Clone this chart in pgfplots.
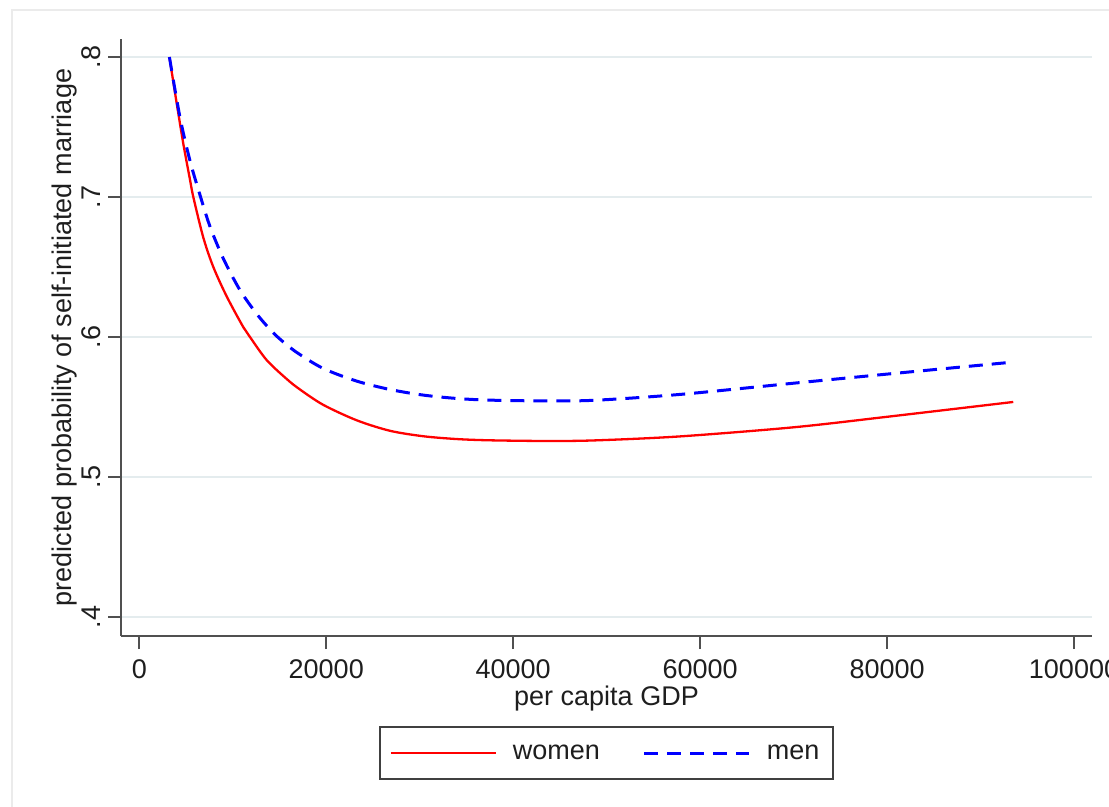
\documentclass[border=0pt]{standalone}
\usepackage{fontspec}
\setmainfont{Liberation Sans}
\usepackage{pgfplots}
\pgfplotsset{compat=1.18}
\definecolor{gridc}{HTML}{E4ECEE}
\definecolor{axc}{HTML}{505050}
\definecolor{txt}{HTML}{1E1E1E}
\begin{document}
\begin{tikzpicture}
\useasboundingbox (0,0) rectangle (554.5bp,403.5bp);
\draw[black!8, line width=0.7bp] (6bp,0) -- (6bp,398.5bp) -- (554.5bp,398.5bp);
\begin{axis}[
  at={(60.5bp,85.5bp)}, anchor=south west,
  scale only axis, width=485.5bp, height=298.5bp,
  xmin=-1958, xmax=101925, ymin=0.3864, ymax=0.8129,
  axis lines=left,
  axis line style={-, draw=axc, line width=1bp},
  tick align=outside, major tick length=6.5bp,
  tick style={draw=axc, line width=1bp},
  scaled x ticks=false, scaled y ticks=false,
  xtick={0,20000,40000,60000,80000,100000},
  xticklabels={0,20000,40000,60000,80000,100000},
  ytick={0.4,0.5,0.6,0.7,0.8},
  yticklabels={.4,.5,.6,.7,.8},
  ymajorgrids, grid style={draw=gridc, line width=1.2bp},
  tick label style={font=\fontsize{13.5bp}{16bp}\selectfont, text=txt},
  yticklabel style={rotate=90, anchor=south, inner sep=0pt, yshift=3.5bp},
  xticklabel style={anchor=north, inner sep=0pt, yshift=-5bp},
  label style={font=\fontsize{13.5bp}{16bp}\selectfont, text=txt},
  xlabel={per capita GDP},
  xlabel style={at={(axis description cs:0.5,0)}, anchor=base, yshift=-34.5bp},
  ylabel={predicted probability of self-initiated marriage},
  ylabel style={at={(axis description cs:-0.0505,0.5)}, anchor=base},
  legend columns=2,
  legend style={at={(axis description cs:0.5,0)}, anchor=north, yshift=-45bp,
    draw=black!75, line width=1bp, inner xsep=5bp, inner ysep=6.75bp,
    font=\fontsize{13.5bp}{16bp}\selectfont, text=txt,
    /tikz/every odd column/.append style={column sep=6bp},
    /tikz/every even column/.append style={column sep=19.5bp}},
  legend image code/.code={\draw[#1] (0bp,0bp) -- (52.5bp,0bp);},
]
\addplot[red, line width=1.15bp, smooth] coordinates {
(3220,0.800) (4000,0.767) (4710,0.738) (5420,0.7125) (5780,0.700) (6850,0.671)
(7920,0.650) (9350,0.629) (11130,0.607) (11840,0.600) (13630,0.5835) (15770,0.5700)
(17190,0.5625) (19690,0.5515) (23260,0.5405) (26820,0.533) (30390,0.5291) (33960,0.5271)
(37520,0.5262) (43940,0.5257) (49000,0.5262) (57870,0.5290) (70000,0.5355)
(80000,0.5430) (93500,0.5536)};
\addlegendentry{women}
\addplot[blue, line width=1.5bp, dash pattern=on 7bp off 4.5bp, smooth] coordinates {
(3220,0.800) (4350,0.757) (5420,0.726) (6490,0.7015) (7560,0.679) (8990,0.656)
(10770,0.6335) (12560,0.6165) (13980,0.6055) (15050,0.5985) (16840,0.589) (19690,0.5775)
(23260,0.5685) (26820,0.5625) (30390,0.5585) (33960,0.5561) (37520,0.5549) (43940,0.5543)
(49000,0.5549) (57870,0.5590) (70000,0.5670) (80000,0.5735) (93500,0.5821)};
\addlegendentry{men}
\end{axis}
\end{tikzpicture}
\end{document}
